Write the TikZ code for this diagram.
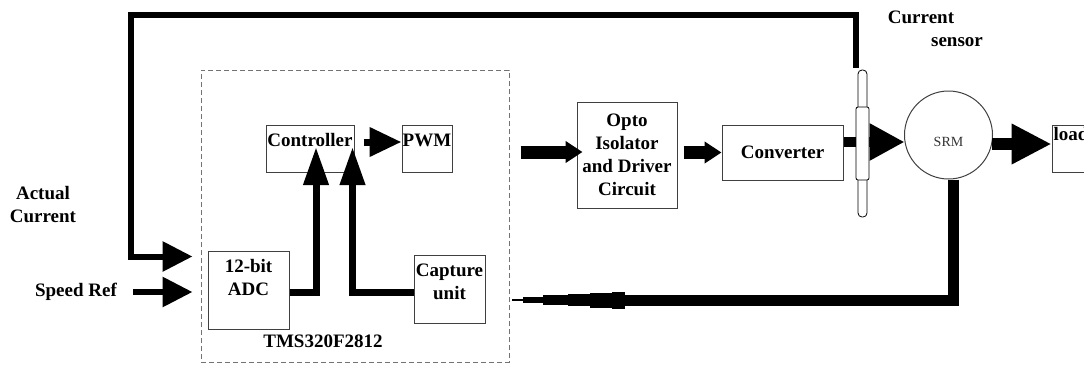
\documentclass[tikz,border=0pt]{standalone}
\usepackage{fontspec}
\setmainfont{Liberation Serif}
\usetikzlibrary{calc,arrows.meta,positioning}

\begin{document}
\begin{tikzpicture}[x=1pt,y=-1pt,
    font=\fontsize{19}{23}\selectfont\bfseries,
    block/.style={rectangle,draw=black!75,line width=1pt,inner sep=0pt},
    toptext/.style={anchor=north,align=center,inner sep=2pt,yshift=-7pt},
    arrow/.style={-{Triangle[length=30pt,width=29pt]},line width=6pt},
    uparrow/.style={-{Triangle[length=38pt,width=24pt]},line width=7pt},
    fatarrow/.style={-{Triangle[length=17pt,width=21pt]},line width=13pt}
]
\useasboundingbox (0,0) rectangle (1084,365);

% === DSP board (dashed) ===
\node[rectangle,draw=black!55,line width=1pt,dash pattern=on 5pt off 3pt,
      minimum width=308pt,minimum height=292pt] (dsp) at (355,216) {};
\node (tms) at (323,341) {TMS320F2812};

% === Blocks inside the DSP ===
\node[block,minimum width=81pt,minimum height=78pt] (adc) at (248.5,290) {};
\node[toptext] (adctext) at (adc.north) {12-bit\\ADC};
\node[block,minimum width=71pt,minimum height=68pt] (capture) at (449.5,289) {};
\node[toptext] (capturetext) at (capture.north) {Capture\\unit};
\node[block,minimum width=88pt,minimum height=47pt] (ctrl) at (310,148.5) {};
\node[toptext] (ctrltext) at (ctrl.north) {Controller};
\node[block,minimum width=50pt,minimum height=47pt] (pwm) at (427,148.5) {};
\node[toptext] (pwmtext) at (pwm.north) {PWM};

% === Power side ===
\node[block,align=center,minimum width=100pt,minimum height=106pt] (opto) at (627,155) {Opto\\Isolator\\and Driver\\Circuit};
\node[block,minimum width=121pt,minimum height=55pt] (conv) at (782.5,152.5) {Converter};
\node[circle,draw=black!75,line width=1pt,minimum size=88pt,inner sep=0pt] (srm) at (948.5,135) {};
\node[font=\fontsize{14}{14}\selectfont,text=black!80] (srmtext) at ($(srm.center)+(0,7)$) {SRM};
\node[block,minimum width=48pt,minimum height=47pt] (load) at (1076,148.5) {};
\node[anchor=north west,inner sep=1pt] (loadtext) at ($(load.north west)+(1,2)$) {load};

% === Input labels ===
\node[align=center] (actual) at (43,205) {Actual\\Current};
\node (speedref) at (76,292) {Speed Ref};
\node (sensorlbl) at (921,17) {Current};
\node (sensorlbl2) at (957,42) {sensor};

% === Signal arrows ===
\draw[arrow] ($(speedref.east)+(13,0)$) -- ($(adc.west)+(-15,2)$);
\draw[uparrow] ($(adc.east)+(0,2)$) -| ($(ctrl.center)+(6,-1.5)$);
\draw[uparrow] ($(capture.west)+(0,3)$) -| ($(ctrl.east)+(-2,-1.5)$);
\draw[-{Triangle[length=32pt,width=28pt]},line width=7pt] ($(ctrl.east)+(9,-6.5)$) -- ($(pwm.west)+(0,-6.5)$);
\draw[fatarrow] ($(dsp.east)+(11,-64)$) -- ($(opto.west)+(6,-3)$);
\draw[fatarrow] ($(opto.east)+(6,-2.5)$) -- (conv.west);
\draw[-{Triangle[length=35pt,width=35pt]},line width=10pt] ($(conv.east)+(0,-10.5)$) -- ($(srm.west)+(0.5,7)$);
\draw[-{Triangle[length=40pt,width=38pt]},line width=12pt] ($(srm.east)+(-1,9)$) -- ($(load.west)+(0,-4.5)$);

% === Current sensor ===
\node[draw,fill=white,line width=0.8pt,rounded corners=4pt,minimum width=9pt,minimum height=147pt,inner sep=0pt] (sensor) at (862.5,143.5) {};
\node[draw,fill=white,line width=0.8pt,rounded corners=2pt,minimum width=13pt,minimum height=73pt,inner sep=0pt] (sensorbody) at (862.5,143.5) {};

% === Current feedback ===
\coordinate (fbtop) at (131,15);
\draw[arrow] ($(sensor.north)+(-7,-2)$) |- (fbtop) |- ($(adc.north west)+(-15,6)$);

% === Speed feedback (tapered into the capture unit) ===
\coordinate (capin) at (625,300);
\draw[line width=11pt] ($(srm.south)+(4.5,0)$) |- (capin);
\draw[line width=17pt] (capin) -- ++(-13,0) coordinate (t1);
\draw[line width=15pt] (t1) -- ++(-22,0) coordinate (t2);
\draw[line width=12pt] (t2) -- ++(-22,0) coordinate (t3);
\draw[line width=10pt] (t3) -- ++(-25,0) coordinate (t4);
\draw[line width=6pt] (t4) -- ++(-20,0) coordinate (t5);
\draw[line width=1.5pt] (t5) -- ++(-11,0);

\end{tikzpicture}
\end{document}
